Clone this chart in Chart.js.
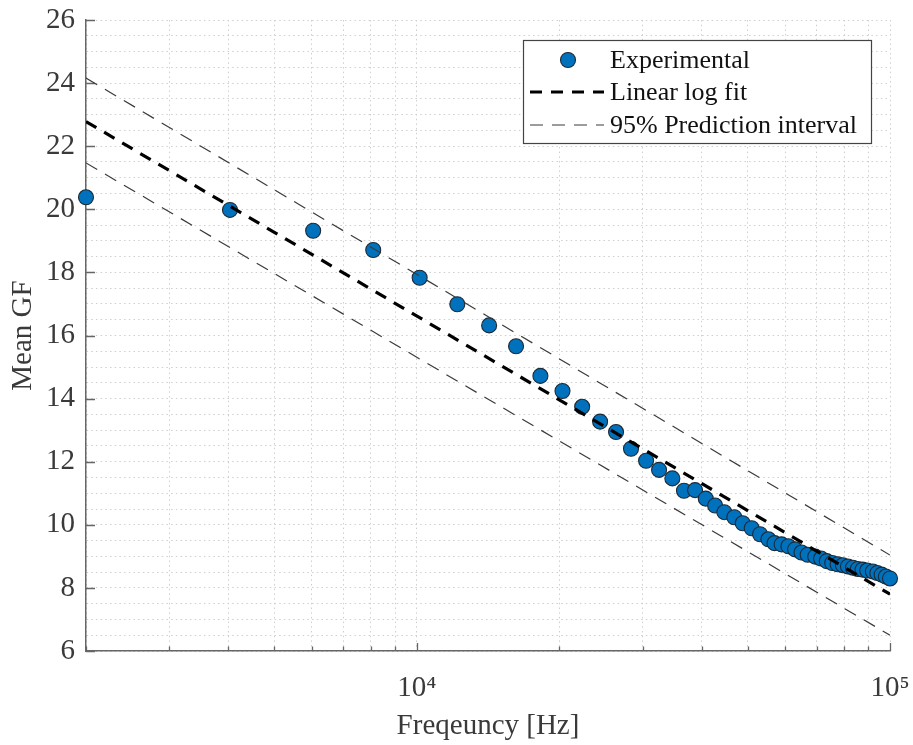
<!DOCTYPE html>
<html>
<head>
<meta charset="utf-8">
<script src="https://cdn.jsdelivr.net/npm/chart.js@4/dist/chart.umd.min.js"></script>
<style>
  html, body { margin: 0; padding: 0; background: #ffffff; }
  #wrap { width: 913px; height: 745px; position: relative; }
</style>
</head>
<body>
<div id="wrap"><canvas id="c" width="913" height="745"></canvas></div>
<script>
// ---- data ----
const freqHz = [2000, 4030, 6040, 8090, 10140, 12180, 14220, 16210, 18250, 20320,
  22360, 24400, 26370, 28360, 30520, 32510, 34680, 36700, 38730, 40800,
  42700, 44660, 46880, 48840, 51020, 53140, 55340, 57000, 59000, 61000,
  63000, 65000, 67000, 69500, 71500, 73500, 75500, 77500, 79500, 81500,
  83500, 85500, 87500, 89500, 92000, 94000, 96000, 98000, 100000];
const meanGF = [20.38, 19.98, 19.32, 18.71, 17.83, 16.99, 16.32, 15.66, 14.72, 14.24,
  13.74, 13.27, 12.94, 12.41, 12.03, 11.74, 11.47, 11.08, 11.10, 10.83,
  10.61, 10.40, 10.24, 10.05, 9.89, 9.70, 9.54, 9.42, 9.38, 9.32,
  9.22, 9.12, 9.05, 8.99, 8.93, 8.85, 8.79, 8.75, 8.72, 8.68,
  8.64, 8.60, 8.58, 8.55, 8.52, 8.47, 8.42, 8.36, 8.30];
const fitFreq = [2000, 100000];
const fitGF = [22.78, 7.80];
const piUpperGF = [24.16, 9.04];
const piLowerGF = [21.47, 6.50];
const xGridTicks = [2000, 3000, 4000, 5000, 6000, 7000, 8000, 9000, 10000,
  20000, 30000, 40000, 50000, 60000, 70000, 80000, 90000, 100000];
const xMajorTicks = [10000, 100000];
const xTickLabels = { 10000: '10\u2074', 100000: '10\u2075' };
const yMin = 6, yMax = 26, yMajorStep = 2, yMinorStep = 0.5;
const seriesLabels = ['Experimental', 'Linear log fit', '95% Prediction interval'];
const xTitle = 'Freqeuncy [Hz]';
const yTitle = 'Mean GF';

const FONT = "'Liberation Serif', 'Times New Roman', serif";
const TXT = '#3a3a3a';

function pairs(xs, ys) { return xs.map((x, i) => ({ x: x, y: ys[i] })); }

// inward tick marks (MATLAB style)
const tickMarks = {
  id: 'tickMarks',
  beforeDatasetsDraw(chart) {
    const ctx = chart.ctx, xs = chart.scales.x, ys = chart.scales.y;
    const a = chart.chartArea;
    ctx.save();
    ctx.strokeStyle = '#666';
    ctx.lineWidth = 1.3;
    ctx.beginPath();
    for (let v = yMin; v <= yMax; v += yMajorStep) {
      const py = Math.round(ys.getPixelForValue(v)) + 0.5;
      ctx.moveTo(a.left, py); ctx.lineTo(a.left + 9, py);
    }
    xGridTicks.forEach(v => {
      const px = Math.round(xs.getPixelForValue(v)) + 0.5;
      const len = xMajorTicks.includes(v) ? 8 : 4.5;
      ctx.moveTo(px, a.bottom); ctx.lineTo(px, a.bottom - len);
    });
    ctx.stroke();
    ctx.restore();
  }
};

// boxed legend in the upper right
const legendBox = {
  id: 'legendBox',
  afterDraw(chart) {
    const ctx = chart.ctx;
    const x0 = 523.5, y0 = 40.5, w = 348, h = 103;
    ctx.save();
    ctx.fillStyle = '#ffffff';
    ctx.fillRect(x0, y0, w, h);
    ctx.strokeStyle = '#444';
    ctx.lineWidth = 1.2;
    ctx.strokeRect(x0, y0, w, h);
    const mids = [60, 92, 125];
    const bases = [68, 100, 133];
    const items = chart.data.datasets.filter(d => d.inLegend);
    items.forEach((ds, i) => {
      const cy = mids[i];
      if (!ds.showLine) {
        ctx.beginPath();
        ctx.arc(568, cy, ds.pointRadius, 0, Math.PI * 2);
        ctx.fillStyle = ds.backgroundColor;
        ctx.fill();
        ctx.lineWidth = ds.pointBorderWidth;
        ctx.strokeStyle = ds.borderColor;
        ctx.setLineDash([]);
        ctx.stroke();
      } else {
        ctx.beginPath();
        ctx.setLineDash(ds.borderDash);
        ctx.lineWidth = ds.borderWidth;
        ctx.strokeStyle = ds.borderColor;
        ctx.moveTo(530, cy); ctx.lineTo(604, cy);
        ctx.stroke();
        ctx.setLineDash([]);
      }
      ctx.fillStyle = '#111';
      ctx.font = '26px ' + FONT;
      ctx.textAlign = 'left';
      ctx.textBaseline = 'alphabetic';
      ctx.fillText(ds.label, 610, bases[i]);
    });
    ctx.restore();
  }
};

new Chart(document.getElementById('c'), {
  type: 'scatter',
  data: {
    datasets: [
      {
        label: seriesLabels[0], inLegend: true,
        data: pairs(freqHz, meanGF),
        showLine: false,
        pointRadius: 7.5, pointHoverRadius: 7.5,
        backgroundColor: '#0072BD', borderColor: '#1b2a38',
        pointBorderWidth: 1.1, borderWidth: 1.1,
        clip: false, order: 3
      },
      {
        label: seriesLabels[1], inLegend: true,
        data: pairs(fitFreq, fitGF),
        showLine: true, pointRadius: 0,
        borderColor: '#000000', borderWidth: 3.2, borderDash: [12, 9],
        backgroundColor: 'transparent', order: 1
      },
      {
        label: seriesLabels[2], inLegend: true,
        data: pairs(fitFreq, piUpperGF),
        showLine: true, pointRadius: 0,
        borderColor: '#3a3a3a', borderWidth: 1.2, borderDash: [13, 9],
        backgroundColor: 'transparent', order: 2
      },
      {
        label: seriesLabels[2], inLegend: false,
        data: pairs(fitFreq, piLowerGF),
        showLine: true, pointRadius: 0,
        borderColor: '#3a3a3a', borderWidth: 1.2, borderDash: [13, 9],
        backgroundColor: 'transparent', order: 2
      }
    ]
  },
  options: {
    responsive: false,
    devicePixelRatio: 1,
    animation: false,
    layout: { padding: { top: 20, right: 23, left: 0, bottom: 0 } },
    plugins: { legend: { display: false }, tooltip: { enabled: false } },
    scales: {
      x: {
        type: 'logarithmic',
        min: 2000, max: 100000,
        afterBuildTicks(scale) { scale.ticks = xGridTicks.map(v => ({ value: v, major: false })); },
        afterFit(scale) { scale.height = 94; scale.paddingLeft = 0; scale.paddingRight = 0; },
        ticks: {
          autoSkip: false, maxRotation: 0, minRotation: 0,
          color: TXT, font: { family: FONT, size: 29 }, padding: 20,
          callback: (v) => xTickLabels[v] || ''
        },
        grid: { color: '#cfcfcf', lineWidth: 1, drawTicks: false },
        border: { display: true, color: '#666', width: 1.5, dash: [1.5, 3.2] },
        title: {
          display: true, text: xTitle, color: TXT,
          font: { family: FONT, size: 29, lineHeight: 1.2 },
          padding: { top: 0, bottom: 1 }
        }
      },
      y: {
        type: 'linear',
        min: yMin, max: yMax,
        afterFit(scale) { scale.width = 86; scale.paddingTop = 0; scale.paddingBottom = 0; },
        ticks: {
          stepSize: yMinorStep, autoSkip: false,
          color: TXT, font: { family: FONT, size: 29 }, padding: 11,
          callback: (v) => (Math.abs(v % yMajorStep) < 1e-9 ? String(v) : '')
        },
        grid: { color: '#cfcfcf', lineWidth: 1, drawTicks: false },
        border: { display: true, color: '#666', width: 1.5, dash: [1.5, 3.2] },
        title: {
          display: true, text: yTitle, color: TXT,
          font: { family: FONT, size: 29, lineHeight: 1.2 },
          padding: { top: 5.5, bottom: 0 }
        }
      }
    }
  },
  plugins: [tickMarks, legendBox]
});
</script>
</body>
</html>
